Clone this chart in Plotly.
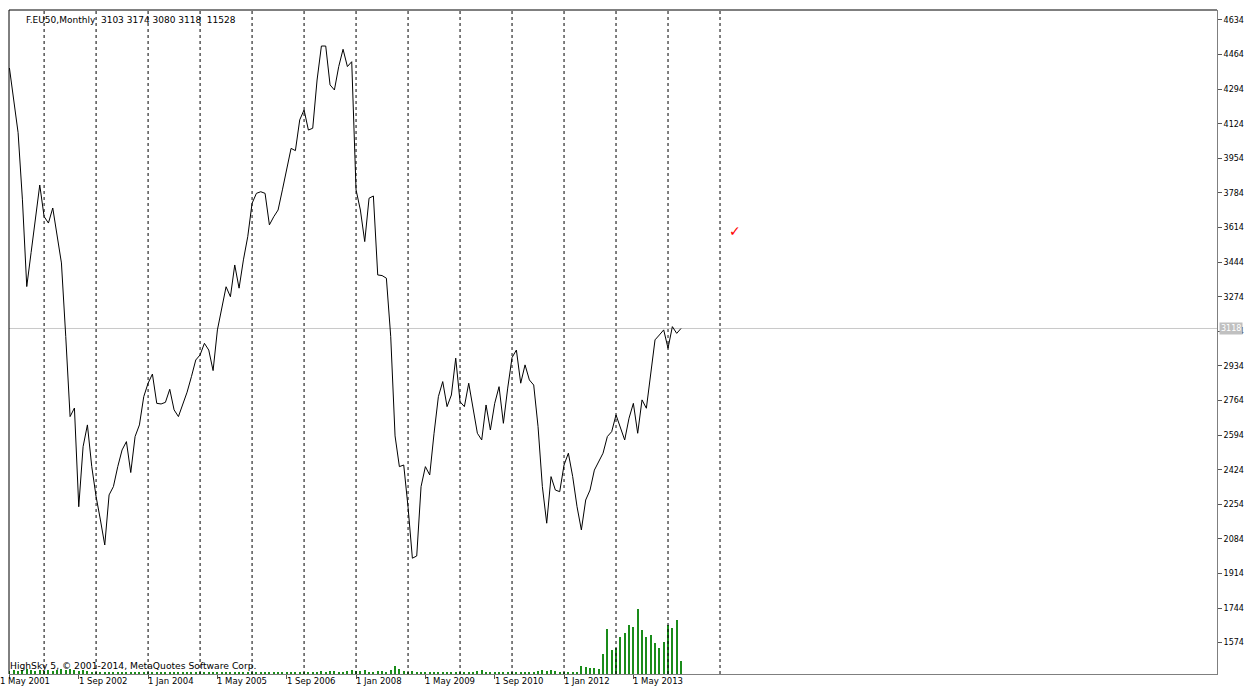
import plotly.graph_objects as go

# Monthly closes, May 2001 .. Apr 2014
close = [
    4398, 4240, 4080, 3750, 3324, 3491, 3656, 3823,
    3668, 3636, 3710, 3578, 3440, 3078, 2685, 2727, 2242, 2537, 2644, 2439,
    2292, 2177, 2054, 2300, 2341, 2439, 2521, 2562, 2410, 2587, 2644, 2783,
    2849, 2894, 2750, 2747, 2755, 2819, 2718, 2685, 2740, 2805, 2881, 2963,
    2988, 3045, 3012, 2911, 3111, 3209, 3323, 3274, 3430, 3316, 3455, 3569,
    3733, 3782, 3790, 3782, 3627, 3667, 3700, 3799, 3897, 4003, 3992, 4143,
    4192, 4093, 4102, 4339, 4506, 4506, 4315, 4290, 4405, 4490, 4405, 4429,
    3799, 3700, 3545, 3758, 3769, 3381, 3378, 3365, 3078, 2590, 2439, 2447,
    2240, 1989, 2000, 2341, 2439, 2398, 2603, 2783, 2857, 2734, 2791, 2972,
    2758, 2734, 2849, 2734, 2603, 2570, 2742, 2619, 2750, 2832, 2652, 2825,
    2975, 3012, 2849, 2939, 2865, 2840, 2636, 2341, 2161, 2390, 2324, 2316,
    2447, 2505, 2390, 2242, 2128, 2275, 2324, 2422, 2463, 2505, 2587, 2611,
    2693, 2628, 2570, 2677, 2750, 2603, 2767, 2726, 2898, 3062, 3086, 3111,
    3021, 3127, 3094, 3118,
]

# Monthly volumes
volume = [
    2600, 3500, 2600, 3500, 4300, 3500, 2600, 3500,
    2600, 3500, 2600, 3500, 4300, 3500, 4300, 3500, 2600, 3500, 2600, 1700,
    1700, 1700, 1700, 900, 900, 900, 900, 900, 900, 900, 900, 900,
    900, 900, 900, 900, 900, 900, 900, 900, 900, 900, 900, 900,
    900, 900, 900, 900, 900, 900, 900, 900, 900, 900, 900, 900,
    900, 900, 900, 900, 1700, 900, 900, 900, 900, 1700, 1700, 1700,
    1700, 1700, 1700, 1700, 2600, 1700, 2600, 2600, 1700, 1700, 2600, 3500,
    2600, 2600, 3500, 1700, 1700, 2600, 2600, 1700, 3500, 6900, 4300, 2600,
    1700, 2600, 1700, 1700, 1700, 1700, 1700, 1700, 1700, 1700, 1700, 1700,
    1700, 1700, 1700, 1700, 2600, 3500, 1700, 1700, 1700, 1700, 1700, 1700,
    1700, 1700, 1700, 1700, 1700, 1700, 2600, 3500, 2600, 3500, 2600, 1700,
    1500, 2000, 2000, 2000, 6900, 6300, 5200, 5200, 4300, 17000, 39000, 20800,
    22200, 31800, 35200, 42700, 41000, 56300, 38100, 31800, 33800, 27100, 22800, 28000,
    42700, 39800, 46500, 11528,
]

x_tick_labels = ["1 May 2001", "1 Sep 2002", "1 Jan 2004", "1 May 2005", "1 Sep 2006",
                 "1 Jan 2008", "1 May 2009", "1 Sep 2010", "1 Jan 2012", "1 May 2013"]
x_tick_index = [0, 16, 32, 48, 64, 80, 96, 112, 128, 144]
separator_years = list(range(2002, 2016))
y_ticks = [1574, 1744, 1914, 2084, 2254, 2424, 2594, 2764, 2934, 3104,
           3274, 3444, 3614, 3784, 3954, 4124, 4294, 4464, 4634]
last_close = 3118
header = "F.EU50,Monthly  3103 3174 3080 3118  11528"
footer = "HighSky 5, © 2001-2014, MetaQuotes Software Corp."
check_mark = (167.5, 3597)

idx = list(range(len(close)))
FONT = "DejaVu Sans"

fig = go.Figure()
fig.add_trace(go.Bar(x=idx, y=volume, yaxis="y2", width=0.25,
                     marker=dict(color="#1a8c1a", line=dict(width=0)),
                     hoverinfo="skip"))
fig.add_trace(go.Scatter(x=idx, y=close, mode="lines",
                         line=dict(color="black", width=1)))

shapes = []
for yr in separator_years:
    i = (yr - 2001) * 12 + (1 - 5)
    shapes.append(dict(type="line", xref="x", yref="paper", x0=i, x1=i, y0=0, y1=1,
                       line=dict(color="black", width=1, dash="3px,3px"), layer="above"))
shapes.append(dict(type="line", xref="paper", yref="y", x0=0, x1=1, y0=last_close, y1=last_close,
                   line=dict(color="#c8c8c8", width=1), layer="below"))
# frame top and left
shapes.append(dict(type="line", xref="paper", yref="paper", x0=0, x1=1, y0=1, y1=1,
                   line=dict(color="black", width=1)))
shapes.append(dict(type="line", xref="paper", yref="paper", x0=0, x1=0, y0=0, y1=1,
                   line=dict(color="black", width=1)))

annotations = [
    dict(xref="paper", yref="paper", x=0, y=1, xanchor="left", yanchor="top",
         xshift=15, yshift=-3, text=header, showarrow=False,
         font=dict(family=FONT, size=9, color="black")),
    dict(xref="paper", yref="paper", x=0, y=0, xanchor="left", yanchor="bottom",
         xshift=-1, yshift=1, text=footer, showarrow=False,
         font=dict(family=FONT, size=9.2, color="black")),
    dict(xref="paper", yref="y", x=1, y=last_close, xanchor="left", yanchor="middle",
         xshift=2, text=str(last_close), showarrow=False, bgcolor="#c0c0c0",
         borderpad=1, font=dict(family=FONT, size=8, color="white")),
    dict(xref="x", yref="y", x=check_mark[0], y=check_mark[1], text="✓",
         showarrow=False, font=dict(family=FONT, size=14, color="red")),
]
for k, (ti, tl) in enumerate(zip(x_tick_index, x_tick_labels)):
    annotations.append(dict(xref="x", yref="paper", x=ti, y=0, xanchor="left", yanchor="top",
                            xshift=(-11 if k == 0 else -2), yshift=0, text=tl, showarrow=False,
                            font=dict(family=FONT, size=8.5, color="black")))

fig.update_layout(
    width=1246, height=688,
    margin=dict(l=9, r=29, t=10, b=14, pad=0, autoexpand=False),
    paper_bgcolor="white", plot_bgcolor="white",
    showlegend=False,
    bargap=0,
    shapes=shapes,
    annotations=annotations,
    xaxis=dict(range=[-0.1, 278.7], tickmode="array", tickvals=x_tick_index,
               showticklabels=False, ticks="outside", ticklen=4, tickcolor="#555",
               showgrid=False, zeroline=False,
               showline=True, linecolor="#7f7f7f", linewidth=1, automargin=False),
    yaxis=dict(range=[1420, 4683], side="right", tickmode="array", tickvals=y_ticks,
               ticks="outside", ticklen=4, tickcolor="#555", showgrid=False,
               zeroline=False, showline=True, linecolor="#7f7f7f", linewidth=1,
               automargin=False,
               tickfont=dict(family=FONT, size=8, color="black")),
    yaxis2=dict(overlaying="y", range=[0, 575000], visible=False, showgrid=False),
)

fig.write_html("out.html", config={"displayModeBar": False},
               post_script="document.body.style.margin='0px';document.body.style.overflow='hidden';")
